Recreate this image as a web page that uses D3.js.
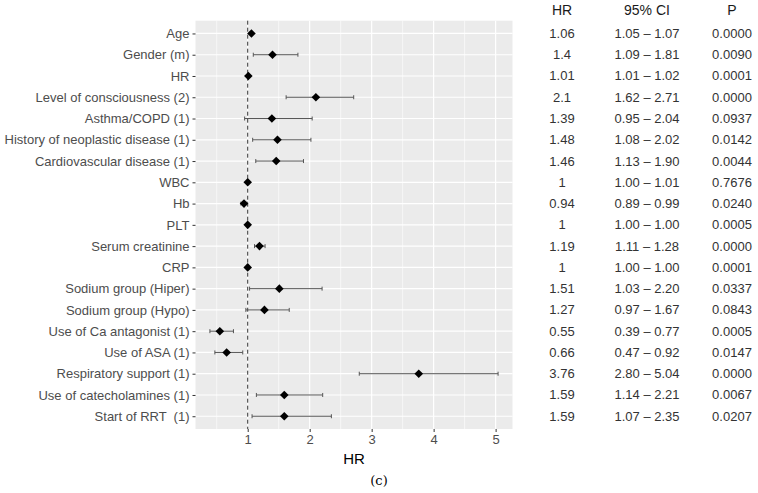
<!DOCTYPE html>
<html><head><meta charset="utf-8">
<script src="https://cdn.jsdelivr.net/npm/d3@7"></script>
<style>body{margin:0;background:#fff}svg{display:block}text{white-space:pre}</style>
</head><body>
<svg id="c" width="758" height="493"></svg>
<script>
const categories = ["Age","Gender (m)","HR","Level of consciousness (2)","Asthma/COPD (1)","History of neoplastic disease (1)","Cardiovascular disease (1)","WBC","Hb","PLT","Serum creatinine","CRP","Sodium group (Hiper)","Sodium group (Hypo)","Use of Ca antagonist (1)","Use of ASA (1)","Respiratory support (1)","Use of catecholamines (1)","Start of RRT  (1)"];
const hr = [1.06,1.4,1.01,2.1,1.39,1.48,1.46,1,0.94,1,1.19,1,1.51,1.27,0.55,0.66,3.76,1.59,1.59];
const lower = [1.05,1.09,1.01,1.62,0.95,1.08,1.13,1.00,0.89,1.00,1.11,1.00,1.03,0.97,0.39,0.47,2.80,1.14,1.07];
const upper = [1.07,1.81,1.02,2.71,2.04,2.02,1.90,1.01,0.99,1.00,1.28,1.00,2.20,1.67,0.77,0.92,5.04,2.21,2.35];
const hrLabels = ["1.06","1.4","1.01","2.1","1.39","1.48","1.46","1","0.94","1","1.19","1","1.51","1.27","0.55","0.66","3.76","1.59","1.59"];
const ciLabels = ["1.05 – 1.07","1.09 – 1.81","1.01 – 1.02","1.62 – 2.71","0.95 – 2.04","1.08 – 2.02","1.13 – 1.90","1.00 – 1.01","0.89 – 0.99","1.00 – 1.00","1.11 – 1.28","1.00 – 1.00","1.03 – 2.20","0.97 – 1.67","0.39 – 0.77","0.47 – 0.92","2.80 – 5.04","1.14 – 2.21","1.07 – 2.35"];
const pLabels = ["0.0000","0.0090","0.0001","0.0000","0.0937","0.0142","0.0044","0.7676","0.0240","0.0005","0.0000","0.0001","0.0337","0.0843","0.0005","0.0147","0.0000","0.0067","0.0207"];
const xTicks = [1,2,3,4,5];
const xMinor = [0.5,1.5,2.5,3.5,4.5];
const tableHeaders = ["HR","95% CI","P"];

const svg = d3.select("#c");
const font = "'Liberation Sans', Arial, sans-serif";
const P = {l:195.5, r:512.5, t:20.7, b:429};

const dmin = d3.min(lower), dmax = d3.max(upper);
const pad = (dmax-dmin)*0.05;
const x = d3.scaleLinear().domain([dmin-pad, dmax+pad]).range([P.l, P.r]);
const y = d3.scalePoint().domain(categories).range([P.t, P.b]).padding(0.6);

svg.append("rect").attr("x",P.l).attr("y",P.t).attr("width",P.r-P.l).attr("height",P.b-P.t).attr("fill","#ebebeb");
const g = svg.append("g");
g.selectAll(".minor").data(xMinor.filter(v=>v>=x.domain()[0])).join("line")
  .attr("x1",d=>x(d)).attr("x2",d=>x(d)).attr("y1",P.t).attr("y2",P.b)
  .attr("stroke","#fff").attr("stroke-width",0.6);
g.selectAll(".major").data(xTicks).join("line")
  .attr("x1",d=>x(d)).attr("x2",d=>x(d)).attr("y1",P.t).attr("y2",P.b)
  .attr("stroke","#fff").attr("stroke-width",1.2);
g.selectAll(".hg").data(categories).join("line")
  .attr("x1",P.l).attr("x2",P.r).attr("y1",d=>y(d)).attr("y2",d=>y(d))
  .attr("stroke","#fff").attr("stroke-width",1.2);

// reference line
svg.append("line").attr("x1",x(1)).attr("x2",x(1)).attr("y1",P.t).attr("y2",P.b)
  .attr("stroke","#333").attr("stroke-width",1).attr("stroke-dasharray","4,3");

// error bars
const rows = categories.map((c,i)=>({c,hr:hr[i],lo:lower[i],hi:upper[i]}));
const eb = svg.append("g").selectAll("g").data(rows).join("g");
eb.append("line").attr("x1",d=>x(d.lo)).attr("x2",d=>x(d.hi)).attr("y1",d=>y(d.c)).attr("y2",d=>y(d.c))
  .attr("stroke","#555").attr("stroke-width",1);
eb.append("line").attr("x1",d=>x(d.lo)).attr("x2",d=>x(d.lo)).attr("y1",d=>y(d.c)-2).attr("y2",d=>y(d.c)+2)
  .attr("stroke","#555").attr("stroke-width",1);
eb.append("line").attr("x1",d=>x(d.hi)).attr("x2",d=>x(d.hi)).attr("y1",d=>y(d.c)-2).attr("y2",d=>y(d.c)+2)
  .attr("stroke","#555").attr("stroke-width",1);
// diamonds
svg.append("g").selectAll("path").data(rows).join("path")
  .attr("transform",d=>`translate(${x(d.hr)},${y(d.c)})`)
  .attr("d","M0,-4.3L4.3,0L0,4.3L-4.3,0Z").attr("fill","#000");

// y axis
const ya = svg.append("g").attr("transform",`translate(${P.l},0)`)
  .call(d3.axisLeft(y).tickSize(3).tickPadding(3));
ya.select(".domain").remove();
ya.selectAll(".tick line").attr("stroke","#333");
ya.selectAll("text").attr("fill","#4d4d4d").style("font-family",font).style("font-size","13px");

// x axis
const xa = svg.append("g").attr("transform",`translate(0,${P.b})`)
  .call(d3.axisBottom(x).tickValues(xTicks).tickFormat(d3.format("d")).tickSize(3).tickPadding(3));
xa.select(".domain").remove();
xa.selectAll(".tick line").attr("stroke","#333");
xa.selectAll("text").attr("fill","#4d4d4d").style("font-family",font).style("font-size","13px");

svg.append("text").attr("x",(P.l+P.r)/2).attr("y",464).attr("text-anchor","middle")
  .style("font-family",font).style("font-size","15px").attr("fill","#000").text("HR");
svg.append("text").attr("x",379).attr("y",485).attr("text-anchor","middle")
  .style("font-family","'DejaVu Serif','Liberation Serif',serif").style("font-size","13px").attr("fill","#000").text("(c)");

// table
const colX = [562,647,732];
const cols = [hrLabels, ciLabels, pLabels];
tableHeaders.forEach((h,j)=>{
  svg.append("text").attr("x",colX[j]).attr("y",15).attr("text-anchor","middle")
    .style("font-family",font).style("font-size","14px").attr("fill","#1a1a1a").text(h);
  svg.append("g").selectAll("text").data(categories).join("text")
    .attr("x",colX[j]).attr("y",d=>y(d)+4.5).attr("text-anchor","middle")
    .style("font-family",font).style("font-size","13px").attr("fill","#333")
    .text((d,i)=>cols[j][i]);
});
</script>
</body></html>
